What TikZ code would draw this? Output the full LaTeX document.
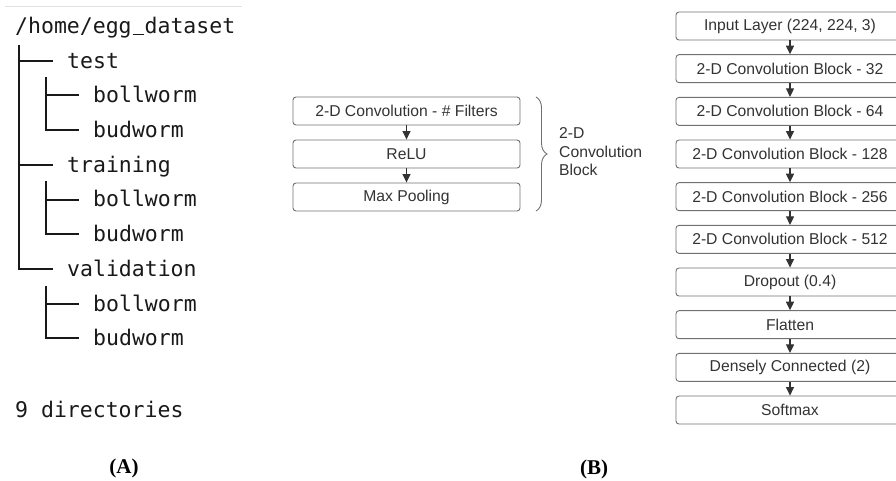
\documentclass[tikz,border=0pt]{standalone}
\usepackage{fontspec}
\setmainfont{Liberation Sans}
\newfontfamily\treefont{DejaVu Sans Mono}
\newfontfamily\capfont{Liberation Serif}
\usetikzlibrary{arrows.meta,decorations.pathreplacing}
\definecolor{boxline}{HTML}{707070}
\definecolor{boxtext}{HTML}{333333}
\definecolor{arrowc}{HTML}{333333}
% an underscore one monospace cell wide
\newcommand{\monounder}{\makebox[0.602em][c]{\rule[-0.09em]{0.52em}{0.08em}}}
\tikzset{
  layer/.style={draw=boxline, line width=0.9pt, rounded corners=3pt,
    minimum width=228pt, minimum height=28pt, inner sep=0pt,
    text=boxtext, font=\fontsize{15.7}{18}\selectfont},
  sublayer/.style={layer, minimum width=227pt},
  flow/.style={draw=arrowc, line width=1.1pt,
    -{Triangle[length=8.5pt,width=8pt]}},
  treeline/.style={draw=black!90, line width=2pt},
  treetext/.style={anchor=base west, inner sep=0pt, text=black!90,
    font=\treefont\fontsize{21.5}{24}\selectfont},
  panel/.style={font=\capfont\bfseries\fontsize{21}{24}\selectfont}
}
\begin{document}
\begin{tikzpicture}[x=1pt,y=-1pt]
\useasboundingbox (0,0) rectangle (896,481);

% ---------- directory tree ----------
\draw[black!12, line width=1pt] (5,7) -- (242,7);
\node[treetext] (root) at (15,33.5) {/home/egg\monounder dataset};
\node[treetext] (test) at (67,33.5+34.7) {test};
\node[treetext] (tboll) at (93,33.5+2*34.7) {bollworm};
\node[treetext] (tbud) at (93,33.5+3*34.7) {budworm};
\node[treetext] (train) at (67,33.5+4*34.7) {training};
\node[treetext] (rboll) at (93,33.5+5*34.7) {bollworm};
\node[treetext] (rbud) at (93,33.5+6*34.7) {budworm};
\node[treetext] (valid) at (67,33.5+7*34.7) {validation};
\node[treetext] (vboll) at (93,33.5+8*34.7) {bollworm};
\node[treetext] (vbud) at (93,33.5+9*34.7) {budworm};
\node[treetext] (count) at (15,417) {9 directories};

% outer trunk and first-level branches
\draw[treeline] (19,45) -- (19,33.5+7*34.7-7.5) -- (53,33.5+7*34.7-7.5);
\foreach \i in {1,4}{
  \draw[treeline] (19,33.5+34.7*\i-7.5) -- (53,33.5+34.7*\i-7.5);
}
% second-level branches
\foreach \i in {2,5,8}{
  \draw[treeline] (46,33.5+34.7*\i-25.5) -- (46,33.5+34.7*\i+34.7-7.5)
        -- (79,33.5+34.7*\i+34.7-7.5);
  \draw[treeline] (46,33.5+34.7*\i-7.5) -- (79,33.5+34.7*\i-7.5);
}

\node[panel] (capA) at (124,468) {(A)};

% ---------- convolution block ----------
\node[sublayer] (conv) at (406.5,111) {2-D Convolution - \# Filters};
\node[sublayer] (relu) at (406.5,154) {ReLU};
\node[sublayer] (pool) at (406.5,197) {Max Pooling};
\draw[flow] (conv) -- (relu);
\draw[flow] (relu) -- (pool);
\draw[boxline, line width=0.9pt, decorate,
      decoration={brace, amplitude=11pt}]
  (536,97) -- (536,211);
\node[anchor=west, align=left, inner sep=0pt, text=boxtext,
      font=\fontsize{15.7}{18.5}\selectfont] (blocklabel) at (559,152)
  {2-D\\Convolution\\Block};

% ---------- network stack ----------
\foreach \name/\lbl [count=\i from 0] in {
  inp/{Input Layer (224, 224, 3)},
  c32/{2-D Convolution Block - 32},
  c64/{2-D Convolution Block - 64},
  c128/{2-D Convolution Block - 128},
  c256/{2-D Convolution Block - 256},
  c512/{2-D Convolution Block - 512},
  drop/{Dropout (0.4)},
  flat/{Flatten},
  dense/{Densely Connected (2)},
  soft/{Softmax}}{
  \node[layer] (\name) at (790,26+42.67*\i) {\lbl};
}
\foreach \a/\b in {inp/c32,c32/c64,c64/c128,c128/c256,c256/c512,
                   c512/drop,drop/flat,flat/dense,dense/soft}{
  \draw[flow] (\a) -- (\b);
}

\node[panel] (capB) at (594,469) {(B)};
\end{tikzpicture}
\end{document}
